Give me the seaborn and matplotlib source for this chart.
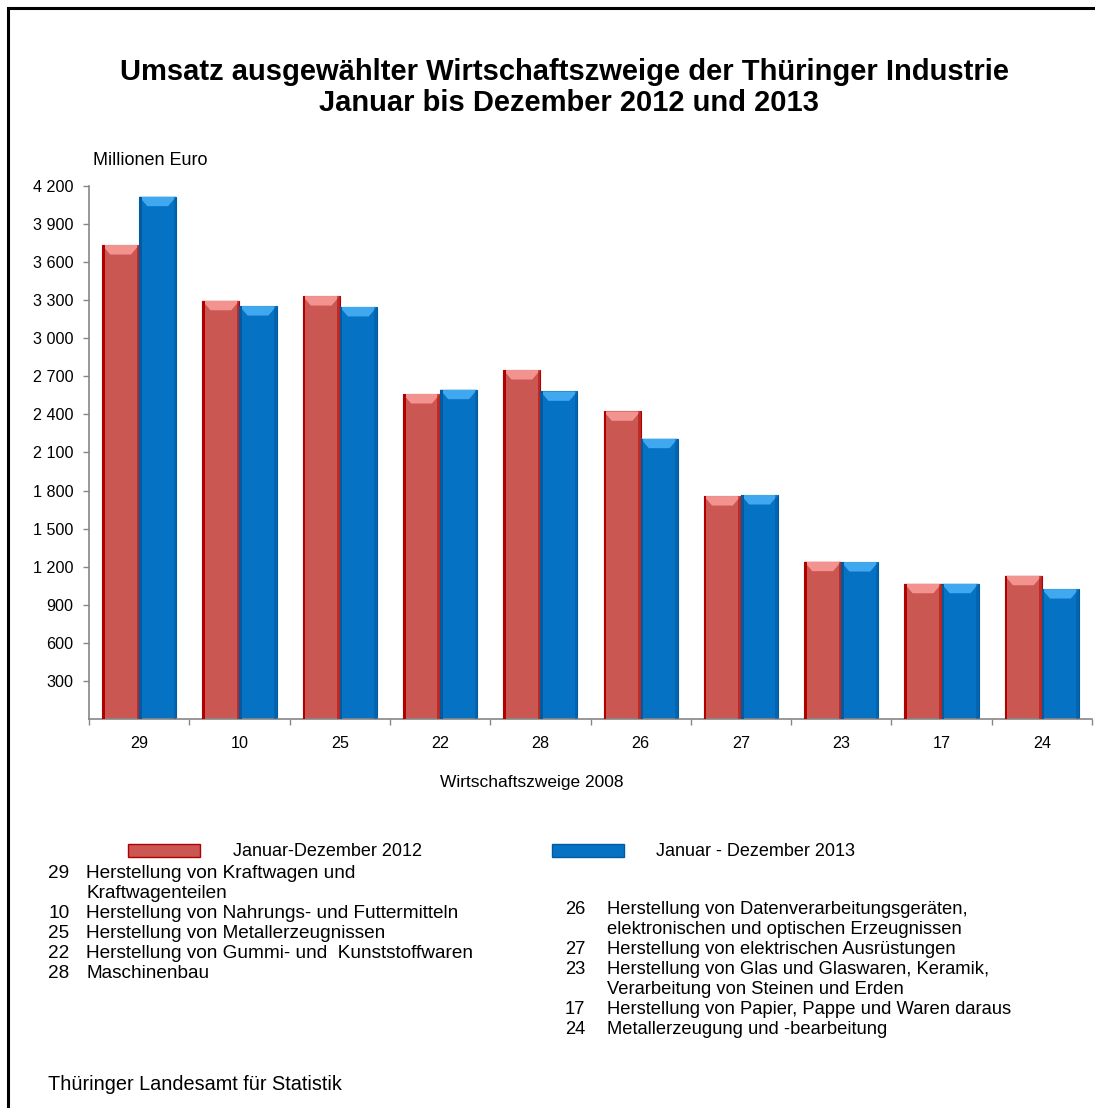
import matplotlib
matplotlib.use("Agg")
import matplotlib.pyplot as plt
import seaborn as sns
import pandas as pd
from matplotlib.patches import Rectangle, Polygon
from matplotlib.ticker import FixedLocator, FuncFormatter

codes = ['29', '10', '25', '22', '28', '26', '27', '23', '17', '24']
v2012 = [3735, 3296, 3333, 2561, 2750, 2425, 1757, 1240, 1066, 1129]
v2013 = [4116, 3254, 3247, 2595, 2582, 2209, 1765, 1237, 1066, 1024]
series = ['Januar-Dezember 2012', 'Januar - Dezember 2013']
yticks = [300, 600, 900, 1200, 1500, 1800, 2100, 2400, 2700, 3000, 3300, 3600, 3900, 4200]

left_desc = [
    ('29', 'Herstellung von Kraftwagen und\nKraftwagenteilen'),
    ('10', 'Herstellung von Nahrungs- und Futtermitteln'),
    ('25', 'Herstellung von Metallerzeugnissen'),
    ('22', 'Herstellung von Gummi- und  Kunststoffwaren'),
    ('28', 'Maschinenbau'),
]
right_desc = [
    ('26', 'Herstellung von Datenverarbeitungsgeräten,\nelektronischen und optischen Erzeugnissen'),
    ('27', 'Herstellung von elektrischen Ausrüstungen'),
    ('23', 'Herstellung von Glas und Glaswaren, Keramik,\nVerarbeitung von Steinen und Erden'),
    ('17', 'Herstellung von Papier, Pappe und Waren daraus'),
    ('24', 'Metallerzeugung und -bearbeitung'),
]

df = pd.DataFrame({
    'code': codes * 2,
    'value': v2012 + v2013,
    'series': [series[0]] * len(codes) + [series[1]] * len(codes),
})

sns.set_theme(style='white')
plt.rcParams['font.family'] = ['Liberation Sans', 'DejaVu Sans']
plt.rcParams['text.color'] = 'black'
plt.rcParams['xtick.color'] = 'black'
plt.rcParams['ytick.color'] = 'black'

W, H = 1095, 1108
fig = plt.figure(figsize=(W / 100, H / 100), dpi=100)
ax = fig.add_axes([89 / W, 1 - 719 / H, (1092 - 89) / W, (719 - 186) / H])

fill = {series[0]: '#CB5753', series[1]: '#0572C4'}
edge = {series[0]: '#B00000', series[1]: '#035A9E'}
cap = {series[0]: '#F29390', series[1]: '#3FA8EE'}

sns.barplot(data=df, x='code', y='value', hue='series', order=codes,
            hue_order=series, palette=fill, width=0.74, ax=ax,
            legend=False, saturation=1)

# bevel-like styling derived from the drawn bars
bar_series = [series[0]] * len(codes) + [series[1]] * len(codes)
for p, s in zip(list(ax.patches), bar_series):
    x0, y0 = p.get_x(), p.get_y()
    w, h = p.get_width(), p.get_height()
    p.set_edgecolor(edge[s])
    p.set_linewidth(0.8)
    capw = w * 0.22
    caph = 75
    ax.add_patch(Polygon([(x0, y0 + h), (x0 + w, y0 + h),
                          (x0 + w - capw, y0 + h - caph), (x0 + capw, y0 + h - caph)],
                         closed=True, facecolor=cap[s], edgecolor='none', zorder=3))
    ax.add_patch(Rectangle((x0, y0), w * 0.07, h, facecolor=edge[s],
                           edgecolor='none', zorder=3))
    ax.add_patch(Rectangle((x0 + w * 0.93, y0), w * 0.07, h, facecolor=edge[s],
                           edgecolor='none', alpha=0.5, zorder=3))

ax.set_xlim(-0.5, len(codes) - 0.5)
ax.set_ylim(0, 4200)
ax.yaxis.set_major_locator(FixedLocator(yticks))
ax.yaxis.set_major_formatter(FuncFormatter(lambda v, _: f'{int(v):,}'.replace(',', ' ')))
ax.set_xlabel('')
ax.set_ylabel('')
ax.xaxis.set_minor_locator(FixedLocator([i + 0.5 for i in range(-1, len(codes))]))
ax.tick_params(axis='x', which='major', length=0, labelsize=11.6, pad=12, labelcolor='black')
ax.tick_params(axis='x', which='minor', length=4.5, width=1, color='#868686', direction='out', bottom=True)
ax.tick_params(axis='y', which='major', length=4, width=1, color='#868686', direction='out',
               labelsize=11.6, pad=7, labelcolor='black', left=True)
for side in ['top', 'right']:
    ax.spines[side].set_visible(False)
for side in ['left', 'bottom']:
    ax.spines[side].set_color('#868686')
    ax.spines[side].set_linewidth(1.2)
ax.grid(False)

# titles and labels
fig.text(565 / W, 1 - 72 / H, 'Umsatz ausgewählter Wirtschaftszweige der Thüringer Industrie',
         ha='center', va='center', fontsize=21, fontweight='bold')
fig.text(569 / W, 1 - 103 / H, 'Januar bis Dezember 2012 und 2013',
         ha='center', va='center', fontsize=21, fontweight='bold')
fig.text(93 / W, 1 - 160 / H, 'Millionen Euro', ha='left', va='center', fontsize=13)
fig.text(532 / W, 1 - 782 / H, 'Wirtschaftszweige 2008', ha='center', va='center', fontsize=12.5)

# legend
handles = [Rectangle((0, 0), 1, 1, facecolor=fill[s], edgecolor=edge[s], linewidth=1) for s in series]
fig.legend(handles, series, loc='center left', bbox_to_anchor=(128 / W, 1 - 852 / H),
           ncol=2, frameon=False, fontsize=13, handlelength=4.0, handleheight=0.7,
           handletextpad=1.8, columnspacing=7.2, borderpad=0, borderaxespad=0)

# descriptions
lh = 20
y = 874
for num, txt in left_desc:
    fig.text(48 / W, 1 - y / H, num, ha='left', va='center', fontsize=13.7)
    for ln in txt.split('\n'):
        fig.text(86 / W, 1 - y / H, ln, ha='left', va='center', fontsize=13.7)
        y += lh
y = 909
for num, txt in right_desc:
    fig.text(565 / W, 1 - y / H, num, ha='left', va='center', fontsize=13.2)
    for ln in txt.split('\n'):
        fig.text(607 / W, 1 - y / H, ln, ha='left', va='center', fontsize=13.2)
        y += lh

fig.text(48 / W, 1 - 1084 / H, 'Thüringer Landesamt für Statistik', ha='left', va='center', fontsize=14.3)

# outer frame
fig.patches.append(Rectangle((8 / W, -0.1), 1.2, 1 - 8 / H + 0.1, transform=fig.transFigure,
                             fill=False, edgecolor='black', linewidth=2.2, zorder=10))

fig.savefig('out.png', dpi=100)
